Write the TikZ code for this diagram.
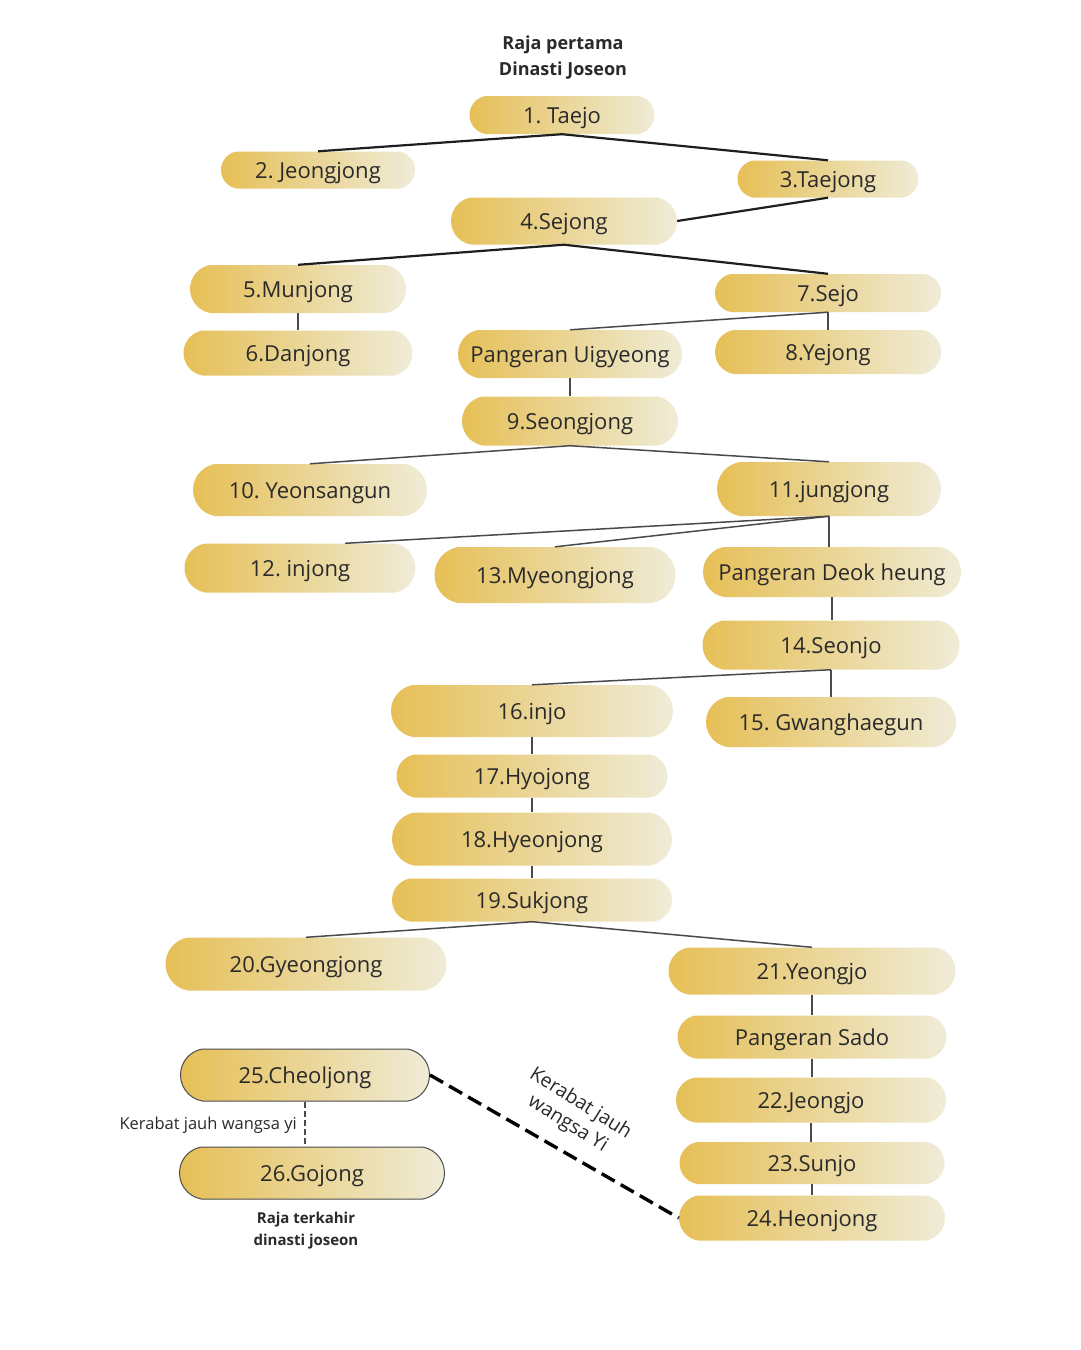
\documentclass[tikz,border=0pt]{standalone}
\usepackage{fontspec}
\setmainfont{Open Sans}
\usetikzlibrary{shapes.misc}
\definecolor{gold}{HTML}{E6BF55}
\definecolor{cream}{HTML}{EFECD8}
\definecolor{txt}{HTML}{2A2A2A}
\definecolor{lineA}{HTML}{1E1E1E}
\definecolor{lineB}{HTML}{4A4A4A}
\begin{document}
\begin{tikzpicture}[x=1pt,y=-1pt]
\frenchspacing
\tikzset{
  king/.style={rounded rectangle, rounded rectangle arc length=160, left color=gold, right color=cream, draw=none,
    inner sep=0pt, text=txt, text height=16pt, text depth=0pt, font=\fontsize{22}{26}\selectfont},
  framed/.style={king, draw=black!70, line width=1pt},
  linka/.style={draw=lineA, line width=2.2pt},
  linkb/.style={draw=lineB, line width=1.5pt},
  vlink/.style={draw=lineB, line width=1.1pt},
  note/.style={text=txt, align=center, inner sep=0pt},
}
\fill[white] (0,0) rectangle (1080,1350);
\useasboundingbox (0,0) rectangle (1080,1350);

% titles
\node[note, font=\fontsize{18}{26}\selectfont\bfseries] (top) at (563,58) {Raja pertama\\Dinasti Joseon};

% nodes
\node[king, minimum width=185pt, minimum height=38pt] (n1) at (562,115) {1. Taejo};
\node[king, minimum width=194pt, minimum height=37pt] (n2) at (318,170) {2. Jeongjong};
\node[king, minimum width=181pt, minimum height=37pt] (n3) at (828,179) {3.Taejong};
\node[king, minimum width=226pt, minimum height=47pt] (n4) at (564,221) {4.Sejong};
\node[king, minimum width=216pt, minimum height=48pt] (n5) at (298,289) {5.Munjong};
\node[king, minimum width=226pt, minimum height=38pt] (n7) at (828,293) {7.Sejo};
\node[king, minimum width=229pt, minimum height=45pt] (n6) at (298,353) {6.Danjong};
\node[king, minimum width=224pt, minimum height=48pt] (pu) at (570,354) {Pangeran Uigyeong};
\node[king, minimum width=226pt, minimum height=44pt] (n8) at (828,352) {8.Yejong};
\node[king, minimum width=216pt, minimum height=49pt] (n9) at (570,421) {9.Seongjong};
\node[king, minimum width=234pt, minimum height=52pt] (n10) at (310,490) {10. Yeonsangun};
\node[king, minimum width=224pt, minimum height=54pt] (n11) at (829,489) {11.jungjong};
\node[king, minimum width=231pt, minimum height=49pt] (n12) at (300,568) {12. injong};
\node[king, minimum width=241pt, minimum height=56pt] (n13) at (555,575) {13.Myeongjong};
\node[king, minimum width=258pt, minimum height=50pt] (pd) at (832,572) {Pangeran Deok heung};
\node[king, minimum width=257pt, minimum height=49pt] (n14) at (831,645) {14.Seonjo};
\node[king, minimum width=282pt, minimum height=52pt] (n16) at (532,711) {16.injo};
\node[king, minimum width=250pt, minimum height=50pt] (n15) at (831,722) {15. Gwanghaegun};
\node[king, minimum width=271pt, minimum height=43pt] (n17) at (532,776) {17.Hyojong};
\node[king, minimum width=280pt, minimum height=53pt] (n18) at (532,839) {18.Hyeonjong};
\node[king, minimum width=280pt, minimum height=43pt] (n19) at (532,900) {19.Sukjong};
\node[king, minimum width=281pt, minimum height=53pt] (n20) at (306,964) {20.Gyeongjong};
\node[king, minimum width=287pt, minimum height=47pt] (n21) at (812,971) {21.Yeongjo};
\node[king, minimum width=269pt, minimum height=43pt] (ps) at (812,1037) {Pangeran Sado};
\node[king, minimum width=270pt, minimum height=45pt] (n22) at (811,1100) {22.Jeongjo};
\node[king, minimum width=265pt, minimum height=42pt] (n23) at (812,1163) {23.Sunjo};
\node[king, minimum width=266pt, minimum height=45pt] (n24) at (812,1218) {24.Heonjong};
\node[framed, minimum width=249pt, minimum height=52pt] (n25) at (305,1075) {25.Cheoljong};
\node[framed, minimum width=265pt, minimum height=52pt] (n26) at (312,1173) {26.Gojong};

\node[note, font=\fontsize{15}{22}\selectfont\bfseries] (bottom) at (306,1231) {Raja terkahir\\dinasti joseon};
\node[note, anchor=east, font=\fontsize{16.5}{20}\selectfont] (kj) at (297,1125) {Kerabat jauh wangsa yi};
\node[note, rotate=-32, font=\fontsize{19.5}{24}\selectfont] (kj2) at (574,1114) {Kerabat jauh\\wangsa Yi};

% connectors
\draw[linka] (n1.south) -- (n2.north);
\draw[linka] (n1.south) -- (n3.north);
\draw[linka] (n3.south) -- (n4.east);
\draw[linka] (n4.south) -- (n5.north);
\draw[linka] (n4.south) -- (n7.north);
\draw[vlink] (n5.south) -- (n6.north);
\draw[linkb] (n7.south) -- (pu.north);
\draw[vlink] (n7.south) -- (n8.north);
\draw[vlink] (pu.south) -- (n9.north);
\draw[linkb] (n9.south) -- (n10.north);
\draw[linkb] (n9.south) -- (n11.north);
\draw[linkb] (n11.south) -- ([xshift=45pt]n12.north);
\draw[linkb] (n11.south) -- (n13.north);
\draw[vlink] (n11.south) -- (n11.south |- pd.north);
\draw[vlink] (pd.south) -- (pd.south |- n14.north);
\draw[linkb] (n14.south) -- (n16.north);
\draw[vlink] (n14.south) -- (n14.south |- n15.north);
\draw[vlink] (n16.south) -- (n17.north);
\draw[vlink] (n17.south) -- (n18.north);
\draw[vlink] (n18.south) -- (n19.north);
\draw[linkb] (n19.south) -- (n20.north);
\draw[linkb] (n19.south) -- (n21.north);
\draw[vlink] (n21.south) -- (ps.north);
\draw[vlink] (ps.south) -- (ps.south |- n22.north);
\draw[vlink] (n22.south) -- (n22.south |- n23.north);
\draw[vlink] (n23.south) -- (n23.south |- n24.north);
\draw[vlink, dash pattern=on 6pt off 3pt] (n25.south) -- (n25.south |- n26.north);
\draw[draw=black, line width=3.4pt, dash pattern=on 15pt off 7pt] (n25.east) -- (n24.west);
\end{tikzpicture}
\end{document}
